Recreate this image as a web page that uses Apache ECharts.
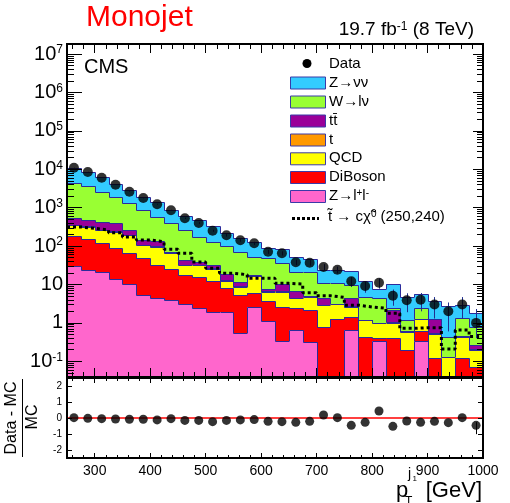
<!DOCTYPE html>
<html>
<head>
<meta charset="utf-8">
<script src="https://cdn.jsdelivr.net/npm/echarts@6.0.0/dist/echarts.min.js"></script>
<style>
html,body{margin:0;padding:0;background:#fff;}
#chart{width:510px;height:503px;}
</style>
</head>
<body>
<div id="chart"></div>
<script>
// ---------------- data ----------------
const binEdges = [250,275,300,325,350,375,400,425,450,475,500,525,550,575,600,625,650,675,700,725,750,775,800,825,850,875,900,925,950,975,1000];
const dataCounts = [11000,8500,6040,3970,2610,1790,1230,856,530,400,252,191,142,118,71,65,38,37,28.6,24.3,12.1,9.1,11.1,5.1,3.9,4.0,3.0,2.0,3.0,1.0];
const dataErrLo = [105,92,78,63,51,42,35,29,23,20,16,14,12,11,8.4,8.1,6.2,6.1,5.3,4.9,3.5,3.0,3.3,2.3,2.0,2.0,1.7,1.4,1.7,0.6];
const dataErrHi = [105,92,78,63,51,42,35,29,23,20,16,14,12,11,8.4,8.1,6.2,6.1,5.3,4.9,3.5,3.0,3.3,2.3,2.0,2.0,1.7,1.4,1.7,1.3];
const zll      = [30,24,21.5,13.9,10.1,5.4,4.5,3.9,3.05,2.4,1.96,1.89,0.54,2.64,1.14,0.34,0.67,0.32,0,0,0.65,0,0.34,0,0,0.34,0,0,0,0];
const diboson  = [153,127,96.5,77,57,43.6,27.5,21.1,14.7,13.0,10.6,6.2,4.8,3.3,2.5,2.3,1.8,1.85,0.8,1.24,0.75,0.44,0.07,0.40,0.2,0.27,0.12,0,0.12,0.07];
const qcd      = [171,169,144,146,128,58,64,40,14.3,16.6,13.4,4.5,3.5,10.7,2.9,3.9,2.0,2.6,2.1,1.8,1.24,0.75,0.57,0.58,0.39,0.63,0.39,0.13,0.32,0.13];
const singleTop= [8,7,7,7,3,2,2,0.4,0.5,0.4,0.3,0.3,0.15,0.1,0.06,0.15,0.1,0.02,0.06,0.05,0.08,0.03,0.02,0.05,0.01,0.02,0.03,0,0.01,0.005];
const ttbar    = [168,152,163,148,64,35,40,5.6,10.5,6.6,5.7,5.9,2.85,1.0,0.94,3.65,2.2,0.18,1.44,0,1.78,0,0,1.14,0,0,0.7,0,0,0.065];
const wlnu     = [3785,3191,2178,1538,1088,727,445,322,219,130,96,82,58,33,41.5,26.7,14.7,16.5,6.6,7.65,5.2,3.6,3.4,0.23,0.57,1.16,0,0.3,0.87,0.53];
const znunu    = [6465,5000,3680,2290,1490,1074,817,497,362,301,199,124,91,80,41,47,30.5,25.5,13,13.1,12.7,7.7,3.3,8.2,3.64,3.1,2.56,2.37,1.59,1.05];
const signal   = [314,291,262,223,173,144,130,83,65,38.5,26.4,19.6,18,14.5,14.5,10.7,10.3,6.1,5.1,4.6,2.9,2.6,2.4,1.78,0.72,0.75,0.75,0.21,0.65,0.44];
const ratio    = [0.02,-0.02,-0.04,-0.06,-0.08,-0.08,-0.12,-0.04,-0.15,-0.15,-0.23,-0.15,-0.12,-0.10,-0.21,-0.23,-0.27,-0.21,0.19,0.02,-0.46,-0.27,0.44,-0.52,-0.19,-0.27,-0.21,-0.29,0.02,-0.46];
const ratioErrLo = [0,0,0,0,0,0,0,0,0,0,0,0,0,0,0,0,0,0,0,0,0,0,0,0,0,0,0,0,0,0.55];
const ratioErrHi = [0,0,0,0,0,0,0,0,0,0,0,0,0,0,0,0,0,0,0,0,0,0,0,0,0,0,0,0,0,0.2];

const xTickLabels = [300,400,500,600,700,800,900,1000];
const yDecades = [0.1,1,10,100,1e3,1e4,1e5,1e6,1e7];
const ratioTicks = [-2,-1,0,1,2];

// stack order bottom -> top
const layerNames  = ['Z→l+l-','DiBoson','QCD','t','tt','W→lν','Z→νν'];
const layerValues = [zll, diboson, qcd, singleTop, ttbar, wlnu, znunu];
const layerColors = ['#ff66cc','#ff0000','#ffff00','#ff9900','#990099','#99ff33','#33ccff'];

// ---------------- setup ----------------
const FONT = '"Liberation Sans", Arial, Helvetica, sans-serif';
const Y_MIN = 0.039, Y_MAX = 1.83e7;
const OUTLINE = '#2b2b9c';
const nb = dataCounts.length;
const centers = dataCounts.map((_, i) => (binEdges[i] + binEdges[i + 1]) / 2);
const clampY = v => Math.min(Math.max(v, Y_MIN), Y_MAX);

let running = new Array(nb).fill(0);
const stacks = layerValues.map(vals => {
  const lo = running.slice();
  running = running.map((r, i) => r + vals[i]);
  return { lo, hi: running.slice() };
});

function layerSeries(k) {
  const st = stacks[k], color = layerColors[k];
  return {
    type: 'custom', name: layerNames[k], xAxisIndex: 0, yAxisIndex: 0,
    silent: true, animation: false, z: 2,
    encode: { x: [0, 1], y: [2, 3] },
    data: st.hi.map((h, i) => [binEdges[i], binEdges[i + 1], clampY(st.lo[i]), clampY(h), clampY(i === 0 ? h : st.hi[i - 1])]),
    renderItem(params, api) {
      const x0 = api.value(0), x1 = api.value(1);
      const lo = api.value(2), hi = api.value(3), prev = api.value(4);
      const pA = api.coord([x0, hi]), pB = api.coord([x1, lo]), pP = api.coord([x0, prev]);
      const X0 = Math.round(pA[0]), X1 = Math.round(pB[0]);
      const Yh = Math.round(pA[1]), Yl = Math.round(pB[1]), Yp = Math.round(pP[1]);
      const children = [];
      if (Yl > Yh) children.push({ type: 'rect', shape: { x: X0, y: Yh, width: X1 - X0, height: Yl - Yh }, style: { fill: color } });
      children.push({ type: 'polyline', shape: { points: [[X0 + 0.5, Yp + 0.5], [X0 + 0.5, Yh + 0.5], [X1 + 0.5, Yh + 0.5]] },
        style: { stroke: OUTLINE, lineWidth: 1, fill: null } });
      return { type: 'group', children };
    }
  };
}

const series = [];
for (let k = layerValues.length - 1; k >= 0; k--) series.push(layerSeries(k));

// signal (dotted, not stacked)
series.push({
  type: 'line', name: 'signal', xAxisIndex: 0, yAxisIndex: 0, step: 'end', symbol: 'none',
  silent: true, animation: false, z: 4,
  data: binEdges.map((e, i) => [e, signal[Math.min(i, nb - 1)]]),
  lineStyle: { color: '#000', width: 3, type: [3, 3], cap: 'butt' }
});

// error bars
function errSeries(xi, yi, vals, lo, hi, color, clampFn) {
  return {
    type: 'custom', xAxisIndex: xi, yAxisIndex: yi, silent: true, animation: false, z: 5,
    encode: { x: 0, y: 1 },
    data: vals.map((v, i) => [centers[i], v, clampFn(v - lo[i]), clampFn(v + hi[i])]),
    renderItem(params, api) {
      const a = api.coord([api.value(0), api.value(2)]);
      const b = api.coord([api.value(0), api.value(3)]);
      const x = Math.round(a[0]) + 0.5;
      return { type: 'line', shape: { x1: x, y1: a[1], x2: x, y2: b[1] }, style: { stroke: color, lineWidth: 1 } };
    }
  };
}
series.push(errSeries(0, 0, dataCounts, dataErrLo, dataErrHi, '#1f2f90', clampY));
series.push({
  type: 'scatter', name: 'Data', xAxisIndex: 0, yAxisIndex: 0, silent: true, animation: false, z: 6,
  symbol: 'circle', symbolSize: 10, itemStyle: { color: '#000' },
  data: dataCounts.map((d, i) => [centers[i], d])
});

// ratio panel
series.push({
  type: 'line', xAxisIndex: 4, yAxisIndex: 4, symbol: 'none', silent: true, animation: false, z: 3,
  data: [[250, 0], [1000, 0]], lineStyle: { color: '#ff0000', width: 1.5 }
});
series.push(errSeries(4, 4, ratio, ratioErrLo, ratioErrHi, '#000', v => Math.max(-2.5, Math.min(2.5, v))));
series.push({
  type: 'scatter', xAxisIndex: 4, yAxisIndex: 4, silent: true, animation: false, z: 6,
  symbol: 'circle', symbolSize: 9, itemStyle: { color: '#000' },
  data: ratio.map((r, i) => [centers[i], r])
});

// ---------------- axes ----------------
const xMinor = []; for (let v = 260; v <= 1000; v += 20) xMinor.push(v);
const yMinor = [];
for (let e = -2; e <= 7; e++) for (let m = 2; m <= 9; m++) { const v = m * Math.pow(10, e); if (v > Y_MIN && v < Y_MAX) yMinor.push(v); }

function xAx(grid, pos, ticks, len, label) {
  return {
    type: 'value', gridIndex: grid, position: pos, min: 250, max: 1000, z: 10,
    axisLine: { show: true, onZero: false, lineStyle: { color: '#000', width: 2 } },
    axisTick: { show: true, inside: true, length: len, customValues: ticks, lineStyle: { color: '#000', width: 1 } },
    axisLabel: label ? { show: true, customValues: ticks, margin: 6, fontSize: 14, color: '#000', fontFamily: FONT,
      formatter: v => String(v) } : { show: false },
    splitLine: { show: false }, minorTick: { show: false }
  };
}
function yLog(pos, ticks, len, label) {
  return {
    type: 'log', logBase: 10, gridIndex: 0, position: pos, min: Y_MIN, max: Y_MAX, z: 10,
    axisLine: { show: true, onZero: false, lineStyle: { color: '#000', width: 2 } },
    axisTick: { show: true, inside: true, length: len, customValues: ticks, lineStyle: { color: '#000', width: 1 } },
    axisLabel: label ? {
      show: true, customValues: ticks, margin: 4, color: '#000', fontFamily: FONT,
      formatter: v => {
        const e = Math.round(Math.log10(v));
        if (e === 0) return '{b|1}';
        if (e === 1) return '{b|10}';
        return '{b|10}{s|' + e + '}';
      },
      rich: {
        b: { fontSize: 20, fontFamily: FONT, color: '#000', lineHeight: 20 },
        s: { fontSize: 12, fontFamily: FONT, color: '#000', lineHeight: 12, verticalAlign: 'top' }
      }
    } : { show: false },
    splitLine: { show: false }, minorTick: { show: false }
  };
}
function yRatio(pos, label) {
  return {
    type: 'value', gridIndex: 1, position: pos, min: -2.5, max: 2.5, z: 10,
    axisLine: { show: true, onZero: false, lineStyle: { color: '#000', width: 2 } },
    axisTick: { show: true, inside: true, length: 5, customValues: ratioTicks, lineStyle: { color: '#000', width: 1 } },
    axisLabel: label ? { show: true, customValues: ratioTicks, margin: 5, fontSize: 10, color: '#000', fontFamily: FONT } : { show: false },
    splitLine: { show: false }, minorTick: { show: false }
  };
}

// ---------------- text / legend ----------------
const legendLabels = [
  '{a|Z→νν}', '{a|W→lν}', '{a|tt\u0304}', '{a|t}', '{a|QCD}', '{a|DiBoson}', '{a|Z→l}{s|+}{a|l}{s|-}'
];
const legendColors = ['#33ccff','#99ff33','#990099','#ff9900','#ffff00','#ff0000','#ff66cc'];
const legRowY = [82.5, 101.5, 120.5, 139.5, 158.3, 177, 196];
const legRich = {
  a: { fontSize: 15, fontFamily: FONT, fill: '#000' },
  s: { fontSize: 10, fontFamily: FONT, fill: '#000', verticalAlign: 'top' }
};
const graphics = [
  { type: 'text', x: 86, y: 17.5, style: { text: 'Monojet', fontSize: 30, fontFamily: FONT, fill: '#ff0000', align: 'left', verticalAlign: 'middle' } },
  { type: 'text', x: 474, y: 30, style: { text: '{a|19.7 fb}{s|-1}{a| (8 TeV)}', align: 'right', verticalAlign: 'middle',
      rich: { a: { fontSize: 19, fontFamily: FONT, fill: '#000' }, s: { fontSize: 12, fontFamily: FONT, fill: '#000', verticalAlign: 'top' } } } },
  { type: 'text', x: 84, y: 67, z: 20, style: { text: 'CMS', fontSize: 20, fontFamily: FONT, fill: '#000', align: 'left', verticalAlign: 'middle' } },
  { type: 'circle', z: 20, shape: { cx: 307, cy: 63.5, r: 4.5 }, style: { fill: '#000' } },
  { type: 'text', x: 329, y: 63.5, z: 20, style: { text: 'Data', fontSize: 15, fontFamily: FONT, fill: '#000', verticalAlign: 'middle' } },
  { type: 'line', z: 20, shape: { x1: 292, y1: 218.5, x2: 319, y2: 218.5 }, style: { stroke: '#000', lineWidth: 3, lineDash: [3, 2] } },
  { type: 'text', x: 328, y: 217, z: 20, style: { text: '{a|t\u0303 → c\u03C7\u0303}{s|0}{a| (250,240)}', verticalAlign: 'middle', rich: legRich } },
  // x-axis title
  { type: 'text', x: 482, y: 491, style: { text: '[GeV]', fontSize: 22, fontFamily: FONT, fill: '#000', align: 'right', verticalAlign: 'middle' } },
  { type: 'text', x: 396, y: 491, style: { text: 'p', fontSize: 22, fontFamily: FONT, fill: '#000', align: 'left', verticalAlign: 'middle' } },
  { type: 'text', x: 408, y: 474, style: { text: 'j', fontSize: 14, fontFamily: FONT, fill: '#000', align: 'left', verticalAlign: 'middle' } },
  { type: 'text', x: 412.5, y: 479, style: { text: '1', fontSize: 8, fontFamily: FONT, fill: '#000', align: 'left', verticalAlign: 'middle' } },
  { type: 'text', x: 405, y: 502, style: { text: 'T', fontSize: 12, fontFamily: FONT, fill: '#000', align: 'left', verticalAlign: 'middle' } },
  // ratio y title
  { type: 'text', x: 12, y: 418, rotation: Math.PI / 2, style: { text: 'Data - MC', fontSize: 16, fontFamily: FONT, fill: '#000', align: 'center', verticalAlign: 'middle' } },
  { type: 'line', shape: { x1: 22.5, y1: 379, x2: 22.5, y2: 457 }, style: { stroke: '#000', lineWidth: 1 } },
  { type: 'text', x: 33, y: 417, rotation: Math.PI / 2, style: { text: 'MC', fontSize: 16, fontFamily: FONT, fill: '#000', align: 'center', verticalAlign: 'middle' } }
];
legendLabels.forEach((lab, i) => {
  graphics.push({ type: 'rect', z: 20, shape: { x: 290.5, y: legRowY[i] - 5.5, width: 35, height: 12 }, style: { fill: legendColors[i], stroke: '#3a3aa8', lineWidth: 1 } });
  graphics.push({ type: 'text', x: 329, y: legRowY[i], z: 20, style: { text: lab, verticalAlign: 'middle', rich: legRich } });
});

const chart = echarts.init(document.getElementById('chart'), null, { renderer: 'canvas' });
chart.setOption({
  animation: false,
  backgroundColor: '#fff',
  textStyle: { fontFamily: FONT },
  grid: [
    { left: 67, right: 27, top: 44, height: 333, outerBoundsMode: 'none', containLabel: false },
    { left: 67, right: 27, top: 378, height: 80, outerBoundsMode: 'none', containLabel: false }
  ],
  xAxis: [
    xAx(0, 'bottom', xTickLabels, 9, false),
    xAx(0, 'bottom', xMinor, 5, false),
    xAx(0, 'top', xTickLabels, 9, false),
    xAx(0, 'top', xMinor, 5, false),
    xAx(1, 'bottom', xTickLabels, 5, true),
    xAx(1, 'bottom', xMinor, 3, false),
    xAx(1, 'top', xTickLabels, 5, false),
    xAx(1, 'top', xMinor, 3, false)
  ],
  yAxis: [
    yLog('left', yDecades, 15, true),
    yLog('left', yMinor, 7, false),
    yLog('right', yDecades, 10, false),
    yLog('right', yMinor, 6, false),
    yRatio('left', true),
    yRatio('right', false)
  ],
  series,
  graphic: graphics
});
</script>
</body>
</html>
